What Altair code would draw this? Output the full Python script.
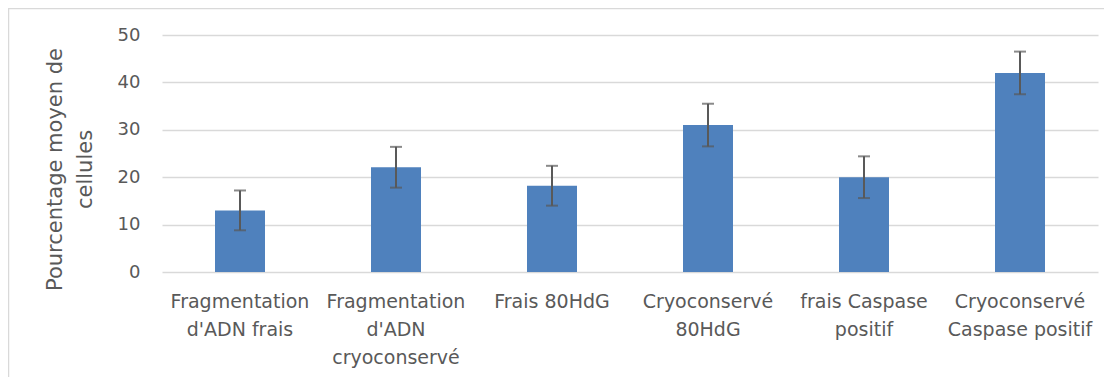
import altair as alt
import pandas as pd

categories = [
    "Fragmentation\nd'ADN frais",
    "Fragmentation\nd'ADN\ncryoconservé",
    "Frais 80HdG",
    "Cryoconservé\n80HdG",
    "frais Caspase\npositif",
    "Cryoconservé\nCaspase positif",
]
means = [13.0, 22.1, 18.2, 31.0, 20.0, 42.0]
errors = [4.2, 4.3, 4.2, 4.5, 4.4, 4.5]

df = pd.DataFrame({"cat": categories, "mean": means, "err": errors})
df["lo"] = df["mean"] - df["err"]
df["hi"] = df["mean"] + df["err"]

FONT = "DejaVu Sans"
TXT = "#595959"

x_enc = alt.X(
    "cat:N",
    sort=categories,
    scale=alt.Scale(paddingInner=0, paddingOuter=0),
    axis=alt.Axis(
        title=None,
        labelAngle=0,
        labelExpr="split(datum.label, '\\n')",
        labelFontSize=19,
        labelFont=FONT,
        labelColor=TXT,
        labelLineHeight=28,
        labelPadding=20,
        ticks=False,
        domain=False,
        grid=False,
        labelBaseline="top",
    ),
)

y_scale = alt.Scale(domain=[0, 50], nice=False)

bars = alt.Chart(df).mark_bar(size=50, color="#4F81BD").encode(
    x=x_enc,
    y=alt.Y(
        "mean:Q",
        scale=y_scale,
        axis=alt.Axis(
            values=[0, 10, 20, 30, 40, 50],
            title=["Pourcentage moyen de", "cellules"],
            titleFont=FONT,
            titleFontSize=21,
            titleFontWeight="normal",
            titleColor=TXT,
            titleLineHeight=30,
            titleX=-97,
            titleY=134,
            titleAngle=-90,
            titleBaseline="bottom",
            titleAlign="center",
            labelFont=FONT,
            labelFontSize=18,
            labelColor=TXT,
            labelPadding=22,
            ticks=False,
            domain=False,
            gridColor="#D9D9D9",
            gridWidth=1.5,
        ),
    ),
)

rules = alt.Chart(df).mark_rule(color="#595959", strokeWidth=2).encode(
    x=alt.X("cat:N", sort=categories),
    y=alt.Y("lo:Q", scale=y_scale),
    y2="hi:Q",
)
caps_lo = alt.Chart(df).mark_tick(color="#595959", thickness=2, size=12, orient="horizontal").encode(
    x=alt.X("cat:N", sort=categories),
    y=alt.Y("lo:Q", scale=y_scale),
)
caps_hi = alt.Chart(df).mark_tick(color="#595959", thickness=2, size=12, orient="horizontal").encode(
    x=alt.X("cat:N", sort=categories),
    y=alt.Y("hi:Q", scale=y_scale),
)

border = alt.Chart(pd.DataFrame({"a": [0]})).mark_rect(
    fill=None, stroke="#D9D9D9", strokeWidth=1.5
).encode(
    x=alt.value(-153.5),
    x2=alt.value(960),
    y=alt.value(-26.5),
    y2=alt.value(400),
)

chart = alt.layer(border, bars, rules, caps_lo, caps_hi).properties(
    width=936,
    height=237,
    padding={"left": 154, "top": 27, "right": 6, "bottom": 105},
    autosize=alt.AutoSizeParams(type="none"),
    background="white",
).configure_view(stroke=None)

chart.save("out.html", embed_options={"renderer": "svg", "actions": False})
